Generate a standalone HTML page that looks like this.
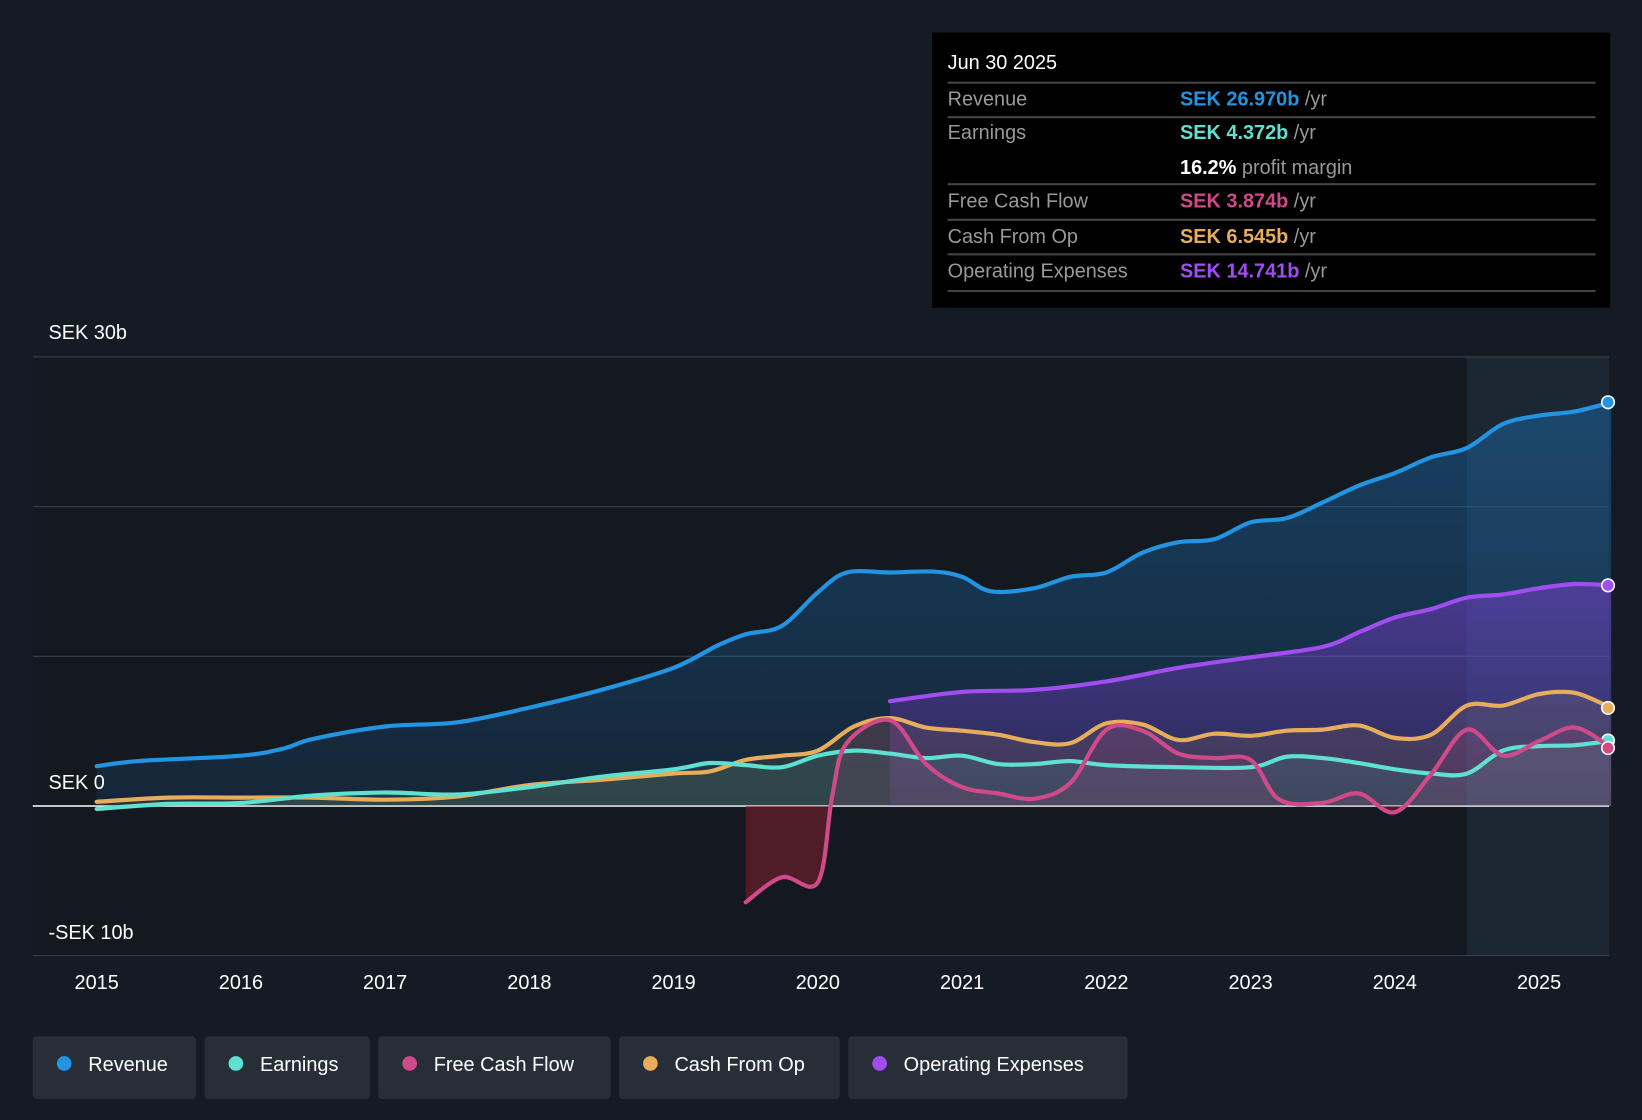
<!DOCTYPE html>
<html><head><meta charset="utf-8"><style>
html,body{margin:0;padding:0;background:#151b24;}
svg{display:block;font-family:"Liberation Sans",sans-serif;}
</style></head><body>
<svg id="chart" width="1642" height="1120" viewBox="0 0 1568 1070">
<defs>
<linearGradient id="gRev" x1="0" y1="0" x2="0" y2="1"><stop offset="0" stop-color="#1c6fb5" stop-opacity="0.45"/><stop offset="1" stop-color="#1c6fb5" stop-opacity="0.15"/></linearGradient>
<linearGradient id="gOp" x1="0" y1="0" x2="0" y2="1"><stop offset="0" stop-color="#8a3fe0" stop-opacity="0.45"/><stop offset="1" stop-color="#8a3fe0" stop-opacity="0.15"/></linearGradient>
<clipPath id="below"><rect x="0" y="770" width="1568" height="200"/></clipPath>
<clipPath id="above"><rect x="0" y="0" width="1568" height="770"/></clipPath>
</defs>
<rect x="0" y="0" width="1568" height="1070" fill="#151b24"/>
<rect x="31" y="341" width="1506" height="572" fill="#141920"/>
<rect x="1401" y="341" width="136" height="572" fill="#1b2733"/>
<g id="grid"></g>
<g id="areas"></g>
<g id="lines"></g>
<g id="xaxis"></g>
<text x="46" y="324" fill="#fff" font-size="19">SEK 30b</text>
<text x="46" y="754" fill="#fff" font-size="19">SEK 0</text>
<text x="46" y="897" fill="#fff" font-size="19">-SEK 10b</text>
<g>
<rect x="890" y="31" width="648" height="263" fill="#000"/>
<text x="905" y="66" fill="#fff" font-size="19">Jun 30 2025</text>
<g stroke="#444" stroke-width="2"><line x1="905" y1="79" x2="1524" y2="79"/><line x1="905" y1="112" x2="1524" y2="112"/><line x1="905" y1="176" x2="1524" y2="176"/><line x1="905" y1="210" x2="1524" y2="210"/><line x1="905" y1="243" x2="1524" y2="243"/><line x1="905" y1="278" x2="1524" y2="278"/></g>
<g font-size="19" fill="#999">
<text x="905" y="101">Revenue</text><text x="905" y="133">Earnings</text><text x="905" y="198">Free Cash Flow</text><text x="905" y="232">Cash From Op</text><text x="905" y="265">Operating Expenses</text>
</g>
<g font-size="19" font-weight="bold">
<text x="1127" y="101"><tspan fill="#2394e2">SEK 26.970b</tspan><tspan fill="#999" font-weight="normal"> /yr</tspan></text>
<text x="1127" y="133"><tspan fill="#5fe0d0">SEK 4.372b</tspan><tspan fill="#999" font-weight="normal"> /yr</tspan></text>
<text x="1127" y="166"><tspan fill="#fff">16.2%</tspan><tspan fill="#999" font-weight="normal"> profit margin</tspan></text>
<text x="1127" y="198"><tspan fill="#d04a8a">SEK 3.874b</tspan><tspan fill="#999" font-weight="normal"> /yr</tspan></text>
<text x="1127" y="232"><tspan fill="#e8ad5c">SEK 6.545b</tspan><tspan fill="#999" font-weight="normal"> /yr</tspan></text>
<text x="1127" y="265"><tspan fill="#a14ef0">SEK 14.741b</tspan><tspan fill="#999" font-weight="normal"> /yr</tspan></text>
</g></g>
<g id="legend"></g>
</svg>
<script>
const years=[2015,2016,2017,2018,2019,2020,2021,2022,2023,2024,2025];
const revX=[2015,2015.3,2016,2016.3,2016.5,2017,2017.5,2018,2018.5,2019,2019.3,2019.5,2019.75,2020,2020.2,2020.5,2020.8,2021,2021.2,2021.5,2021.75,2022,2022.25,2022.5,2022.75,2023,2023.25,2023.5,2023.75,2024,2024.25,2024.5,2024.75,2025,2025.25,2025.5];
const revenue=[2.66,3.01,3.36,3.85,4.48,5.31,5.59,6.57,7.76,9.23,10.7,11.47,12.03,14.27,15.6,15.6,15.66,15.31,14.34,14.55,15.31,15.6,16.92,17.62,17.83,18.95,19.23,20.28,21.4,22.24,23.29,23.92,25.52,26.08,26.36,26.97];
const earnX=[2015,2015.5,2016,2016.5,2017,2017.5,2018,2018.5,2019,2019.25,2019.5,2019.75,2020,2020.25,2020.5,2020.75,2021,2021.25,2021.5,2021.75,2022,2022.5,2023,2023.25,2023.5,2023.75,2024,2024.25,2024.5,2024.75,2025,2025.25,2025.5];
const earnings=[-0.2,0.14,0.2,0.7,0.9,0.77,1.26,1.96,2.45,2.87,2.73,2.59,3.36,3.7,3.5,3.2,3.36,2.8,2.8,3.0,2.73,2.59,2.59,3.29,3.2,2.87,2.45,2.17,2.17,3.7,4.0,4.06,4.37];
const fcfX=[2019.5,2019.75,2020,2020.1,2020.2,2020.5,2020.75,2021,2021.25,2021.5,2021.75,2022,2022.25,2022.5,2022.75,2023,2023.2,2023.5,2023.75,2024,2024.25,2024.5,2024.75,2025,2025.25,2025.5];
const fcf=[-6.43,-4.76,-5.1,0.7,4.2,5.73,2.8,1.26,0.84,0.49,1.54,5.1,5.03,3.5,3.2,3.08,0.42,0.21,0.84,-0.42,2.1,5.1,3.36,4.34,5.24,3.87];
const cfoX=[2015,2015.5,2016,2016.5,2017,2017.5,2018,2018.5,2019,2019.25,2019.5,2019.75,2020,2020.25,2020.5,2020.75,2021,2021.25,2021.5,2021.75,2022,2022.25,2022.5,2022.75,2023,2023.25,2023.5,2023.75,2024,2024.25,2024.5,2024.75,2025,2025.25,2025.5];
const cfo=[0.28,0.56,0.56,0.56,0.42,0.63,1.4,1.75,2.17,2.31,3.08,3.36,3.7,5.31,5.87,5.24,5.03,4.76,4.27,4.2,5.52,5.45,4.41,4.83,4.69,5.03,5.1,5.38,4.55,4.76,6.71,6.71,7.48,7.55,6.55];
const opexX=[2020.5,2021,2021.5,2022,2022.5,2023,2023.5,2023.75,2024,2024.25,2024.5,2024.75,2025,2025.25,2025.5];
const opex=[7.0,7.62,7.76,8.32,9.23,9.93,10.63,11.6,12.59,13.15,13.92,14.13,14.55,14.83,14.74];
const gridVals=[-10,0,10,20,30];

const NS="http://www.w3.org/2000/svg";
const X=t=>92+(t-2015)*137.8;
const Y=v=>770-v*14.3;
function mk(tag,attrs,parent){const e=document.createElementNS(NS,tag);for(const k in attrs)e.setAttribute(k,attrs[k]);parent.appendChild(e);return e;}
function pathD(xs,vs){const p=xs.map((x,i)=>[X(x),Y(vs[i])]);let d=`M${p[0][0]},${p[0][1]}`;
 for(let i=0;i<p.length-1;i++){const p0=p[i-1]||p[i],p1=p[i],p2=p[i+1],p3=p[i+2]||p2;
  const c1=[p1[0]+(p2[0]-p0[0])/6,p1[1]+(p2[1]-p0[1])/6],c2=[p2[0]-(p3[0]-p1[0])/6,p2[1]-(p3[1]-p1[1])/6];
  d+=`C${c1[0]},${c1[1]} ${c2[0]},${c2[1]} ${p2[0]},${p2[1]}`;}return d;}
const grid=document.getElementById('grid'),areas=document.getElementById('areas'),lines=document.getElementById('lines'),xa=document.getElementById('xaxis');
gridVals.forEach(v=>{const l=mk('line',{x1:31,x2:1537,y1:Y(v),y2:Y(v),stroke:v===0?'#fff':'#3a414b','stroke-width':v===0?1.5:1},grid);

});
years.forEach(y=>{const t=mk('text',{x:X(y),y:945,fill:'#fff','font-size':19,'text-anchor':'middle'},xa);t.textContent=y;

});
const series=[
 {n:'revenue',xs:revX,vs:revenue,c:'#2394e2',f:'url(#gRev)'},
 {n:'operating-expenses',xs:opexX,vs:opex,c:'#a14ef0',f:'url(#gOp)'},
 {n:'cash-from-op',xs:cfoX,vs:cfo,c:'#e8ad5c',f:'rgba(232,173,92,0.10)'},
 {n:'earnings',xs:earnX,vs:earnings,c:'#5fe0d0',f:'rgba(95,224,208,0.10)'},
 {n:'free-cash-flow',xs:fcfX,vs:fcf,c:'#d04a8a',f:'rgba(208,74,138,0.12)'}];
series.forEach(s=>{const d=pathD(s.xs,s.vs);
 const ad=d+`L${X(s.xs[s.xs.length-1])},${Y(0)}L${X(s.xs[0])},${Y(0)}Z`;
 const a=mk('path',{d:ad,fill:s.f,'clip-path':'url(#above)'},areas);
 
 
 if(s.n==='free-cash-flow'){const nb=mk('path',{d:ad,fill:'rgba(120,30,45,0.6)','clip-path':'url(#below)'},areas);
  
  }
 const l=mk('path',{d:d,fill:'none',stroke:s.c,'stroke-width':4,'stroke-linecap':'round'},lines);
 
 
 const last=s.xs.length-1;
 const c=mk('circle',{cx:X(s.xs[last])-3,cy:Y(s.vs[last]),r:6,fill:s.c,stroke:'#fff','stroke-width':1.5},lines);
 
 });
const leg=[['Revenue','#2394e2',31,156],['Earnings','#5fe0d0',195,158],['Free Cash Flow','#d04a8a',361,222],['Cash From Op','#e8ad5c',591,211],['Operating Expenses','#a14ef0',810,267]];
const lg=document.getElementById('legend');
leg.forEach(([t,c,x,w])=>{const g=mk('g',{},lg);
 
 
 mk('rect',{x:x,y:990,width:w,height:60,rx:4,fill:'#282e38'},g);
 mk('circle',{cx:x+30,cy:1016,r:7,fill:c},g);
 const tx=mk('text',{x:x+53,y:1023,fill:'#fff','font-size':19},g);tx.textContent=t;});
</script>
</body></html>
